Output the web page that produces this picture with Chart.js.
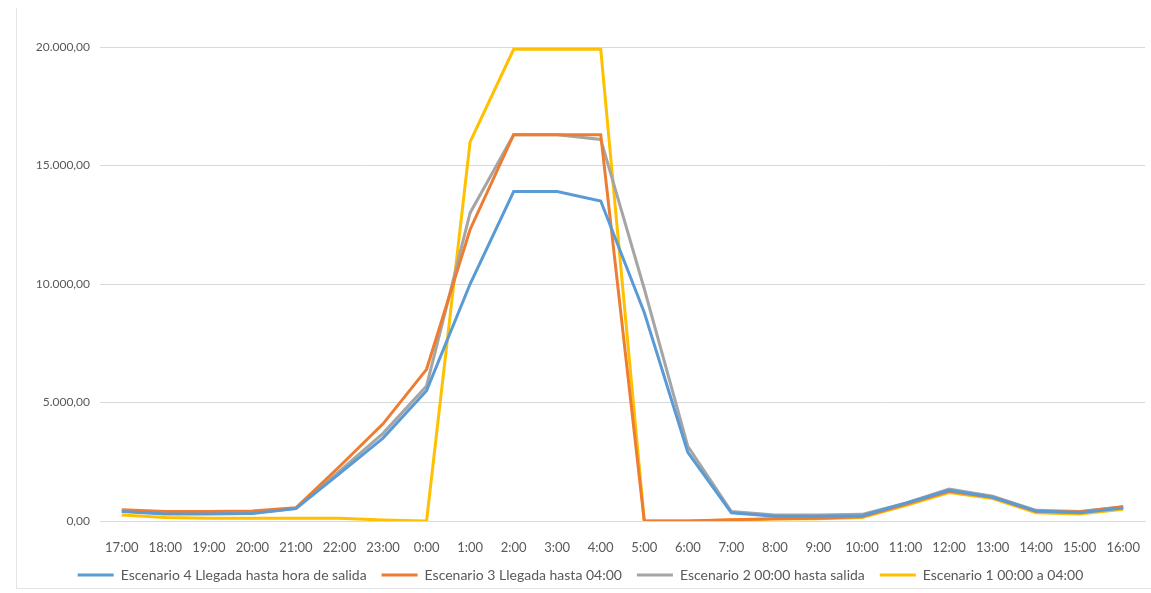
<!DOCTYPE html>
<html>
<head>
<meta charset="utf-8">
<script src="https://cdn.jsdelivr.net/npm/chart.js@4"></script>
<style>
html,body{margin:0;padding:0;background:#fff;}
#wrap{position:relative;width:1151px;height:593px;}
#frame{position:absolute;left:16px;top:8px;width:1200px;height:580px;border-left:1px solid #e4e4e4;border-bottom:1px solid #e4e4e4;}
canvas{position:absolute;left:0;top:0;}
</style>
</head>
<body>
<div id="wrap"><div id="frame"></div><canvas id="c" width="1151" height="593"></canvas></div>
<script>
const categories = ['17:00','18:00','19:00','20:00','21:00','22:00','23:00','0:00','1:00','2:00','3:00','4:00','5:00','6:00','7:00','8:00','9:00','10:00','11:00','12:00','13:00','14:00','15:00','16:00'];
const seriesNames = ['Escenario 4 Llegada hasta hora de salida','Escenario 3 Llegada hasta 04:00','Escenario 2 00:00 hasta salida','Escenario 1 00:00 a 04:00'];
const escenario4 = [400,300,300,320,520,2000,3500,5500,10000,13900,13900,13500,8800,2900,350,200,200,220,750,1300,1000,420,350,550];
const escenario3 = [480,400,400,420,560,2300,4100,6400,12300,16300,16300,16300,0,0,50,100,120,180,700,1250,1000,400,380,600];
const escenario2 = [420,320,320,340,540,2100,3700,5700,13000,16300,16300,16100,9800,3150,400,250,250,280,750,1350,1050,450,400,600];
const escenario1 = [250,150,120,120,120,120,40,0,16000,19900,19900,19900,0,0,40,80,100,150,650,1200,950,350,300,500];
const colors = ['#5B9BD5','#ED7D31','#A5A5A5','#FFC000'];
const seriesValues = [escenario4, escenario3, escenario2, escenario1];

function fmt(v){
  const neg = v < 0; v = Math.abs(v);
  const parts = v.toFixed(2).split('.');
  parts[0] = parts[0].replace(/\B(?=(\d{3})+(?!\d))/g, '.');
  return (neg?'-':'') + parts[0] + ',' + parts[1];
}

Chart.defaults.font.family = 'Lato, "Open Sans", sans-serif';
Chart.defaults.font.size = 12;
Chart.defaults.color = '#595959';

new Chart(document.getElementById('c'), {
  type: 'line',
  data: {
    labels: categories,
    datasets: seriesValues.map((d,i)=>({
      label: seriesNames[i],
      data: d,
      borderColor: colors[i],
      backgroundColor: colors[i],
      borderWidth: 3,
      pointRadius: 0,
      tension: 0,
      fill: false
    }))
  },
  options: {
    responsive: false,
    animation: false,
    layout: { padding: { left: 16, right: 6, top: 47, bottom: 1 } },
    plugins: {
      legend: {
        position: 'bottom',
        labels: {
          usePointStyle: true,
          pointStyle: 'line',
          pointStyleWidth: 36,
          boxHeight: 12,
          padding: 15,
          color: '#595959',
          font: { size: 14 }
        }
      },
      tooltip: { enabled: false }
    },
    scales: {
      x: {
        offset: true,
        grid: { display: false, drawTicks: false },
        border: { display: true, color: '#d9d9d9' },
        ticks: { padding: 19, maxRotation: 0, autoSkip: false, color: '#595959', font: { size: 13 } },
        afterFit: s => { s.height = 32; s.paddingLeft = 0; s.paddingRight = 0; }
      },
      y: {
        min: 0, max: 20000,
        ticks: { stepSize: 5000, padding: 10, color: '#595959', callback: v => fmt(v) },
        grid: { color: '#d9d9d9', drawTicks: false },
        border: { display: false },
        afterFit: s => { s.width = 84; s.paddingTop = 0; s.paddingBottom = 0; }
      }
    }
  }
});
</script>
</body>
</html>
